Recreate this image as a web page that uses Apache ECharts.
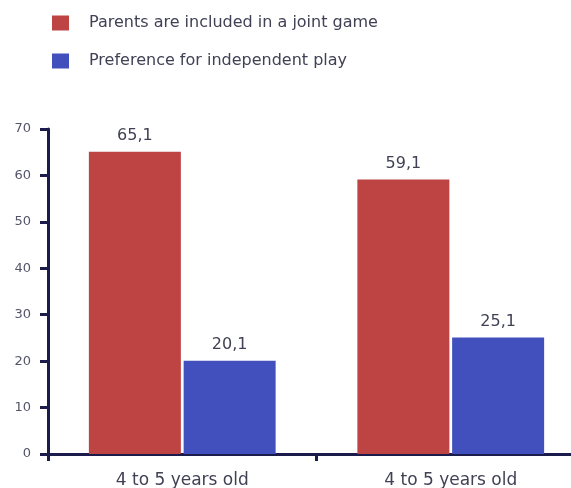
<!DOCTYPE html>
<html>
<head>
<meta charset="utf-8">
<script src="https://cdn.jsdelivr.net/npm/echarts@6/dist/echarts.min.js"></script>
<style>
  html, body { margin: 0; padding: 0; background: #fff; }
  #main { width: 571px; height: 488px; }
</style>
</head>
<body>
<div id="main"></div>
<script>
var categories = ['4 to 5 years old', '4 to 5 years old'];
var seriesNames = ['Parents are included in a joint game', 'Preference for independent play'];
var jointGame = [65.1, 59.1];
var independentPlay = [20.1, 25.1];

var chart = echarts.init(document.getElementById('main'));
var axisColor = '#1c1c4c';
var textColor = '#414155';
var font = 'DejaVu Sans';

function commaLabel(p) {
  return String(p.value).replace('.', ',');
}

var option = {
  backgroundColor: '#fff',
  animation: false,
  legend: {
    orient: 'vertical',
    left: 52,
    top: 15,
    padding: 0,
    itemWidth: 17,
    itemHeight: 15,
    itemGap: 22,
    icon: 'rect',
    textStyle: { color: textColor, fontSize: 16, fontFamily: font, padding: [0, 0, 0, 15] },
    data: seriesNames
  },
  grid: { left: 48, right: -14, top: 129, bottom: 34, outerBoundsMode: 'none', containLabel: false },
  xAxis: {
    type: 'category',
    data: categories,
    axisLine: { lineStyle: { color: axisColor, width: 3 } },
    axisTick: { show: true, length: 7, lineStyle: { color: axisColor, width: 3 } },
    axisLabel: { color: textColor, fontSize: 17, fontFamily: font, margin: 18 }
  },
  yAxis: {
    type: 'value',
    min: 0,
    max: 70,
    interval: 10,
    splitLine: { show: false },
    axisLine: { show: true, lineStyle: { color: axisColor, width: 3 } },
    axisTick: { show: true, length: 8, lineStyle: { color: axisColor, width: 3 } },
    axisLabel: { color: '#55556a', fontSize: 13, fontFamily: font, margin: 17 }
  },
  series: [
    {
      name: seriesNames[0],
      type: 'bar',
      data: jointGame,
      barWidth: 92,
      barGap: '3%',
      itemStyle: { color: '#be4444' },
      label: { show: true, position: 'top', distance: 8, formatter: commaLabel, color: textColor, fontSize: 16, fontFamily: font }
    },
    {
      name: seriesNames[1],
      type: 'bar',
      data: independentPlay,
      barWidth: 92,
      barGap: '3%',
      itemStyle: { color: '#4150bd' },
      label: { show: true, position: 'top', distance: 8, formatter: commaLabel, color: textColor, fontSize: 16, fontFamily: font }
    }
  ]
};

chart.setOption(option);
</script>
</body>
</html>
